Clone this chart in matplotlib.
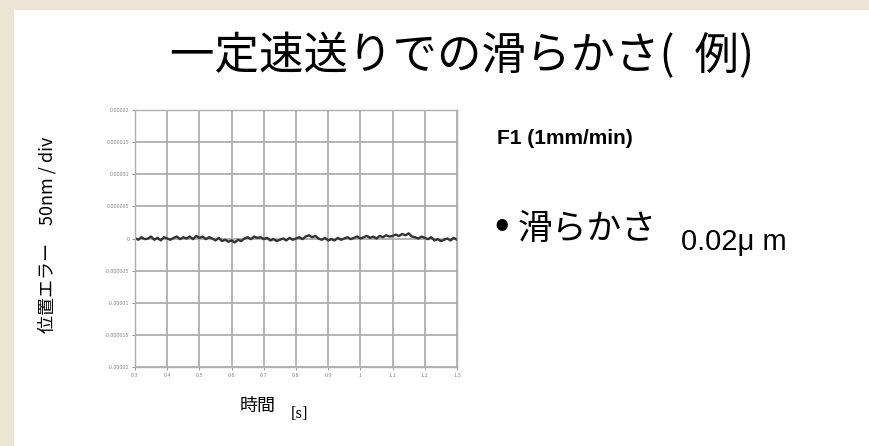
import matplotlib.pyplot as plt
from matplotlib.patches import Rectangle
import numpy as np

plt.rcParams['font.family'] = ['Noto Sans CJK JP', 'DejaVu Sans']

# --- データ ---
t_start, t_end = 0.3, 1.3
x_ticks = [0.3, 0.4, 0.5, 0.6, 0.7, 0.8, 0.9, 1.0, 1.1, 1.2, 1.3]
x_labels = ['0.3', '0.4', '0.5', '0.6', '0.7', '0.8', '0.9', '1', '1.1', '1.2', '1.3']
y_ticks = [0.00002, 0.000015, 0.00001, 0.000005, 0, -0.000005, -0.00001, -0.000015, -0.00002]
y_labels = ['0.00002', '0.000015', '0.00001', '0.000005', '0',
            '-0.000005', '-0.00001', '-0.000015', '-0.00002']

# 位置エラー (単位 1e-6), 0.01 s ごと
err_u = [0.1, -0.2, 0.2, -0.1, 0.0, 0.3, -0.2, 0.1, -0.3, 0.2, 0.0,
         -0.2, 0.1, 0.3, -0.1, 0.2, 0.0, 0.3, -0.1, 0.4, 0.1,
         0.3, -0.1, 0.2, 0.0, -0.3, 0.1, -0.4, -0.2, -0.5, -0.3,
         -0.6, -0.2, -0.4, 0.0, 0.2, -0.1, 0.3, 0.1, 0.2, -0.1,
         0.1, -0.3, -0.1, -0.4, -0.2, 0.0, -0.3, 0.1, -0.2, 0.0,
         0.2, -0.1, 0.3, 0.5, 0.2, 0.4, 0.0, -0.2, 0.1, -0.3,
         -0.1, -0.3, 0.1, -0.2, 0.0, 0.2, -0.1, 0.1, 0.3, 0.0,
         0.2, 0.4, 0.1, 0.3, 0.0, 0.4, 0.2, 0.5, 0.3, 0.4,
         0.6, 0.4, 0.7, 0.5, 0.8, 0.3, 0.2, 0.0, 0.3, 0.1,
         -0.1, 0.2, -0.3, -0.1, -0.4, -0.2, 0.0, -0.3, 0.1, -0.2]

t = np.linspace(t_start, t_end, len(err_u))
err = np.array(err_u) * 1e-6

fig = plt.figure(figsize=(8.69, 4.46), dpi=100)
fig.patch.set_facecolor('#ece5d3')
fig.patches.append(Rectangle((14 / 869, 0), 1, 1 - 10 / 446, transform=fig.transFigure,
                             facecolor='white', edgecolor='none', zorder=-10))

ax = fig.add_axes([135 / 869, 1 - 367 / 446, 322 / 869, 257 / 446])
ax.plot(t, err, color='#333333', lw=1.7)
ax.set_xlim(t_start, t_end)
ax.set_ylim(-0.00002, 0.00002)
ax.set_xticks(x_ticks)
ax.set_xticklabels(x_labels)
ax.set_yticks(y_ticks)
ax.set_yticklabels(y_labels)
ax.tick_params(labelsize=4, colors='#888888', length=2, width=0.6, pad=2)
ax.grid(True, color='#a8a8a8', lw=1.2)
for s in ax.spines.values():
    s.set_color('#b0b0b0')
    s.set_linewidth(1.0)

# テキスト
fig.text(462 / 869, 1 - 56 / 446, '一定速送りでの滑らかさ(  例)', fontsize=32,
         ha='center', va='center')
fig.text(47 / 869, 1 - 235 / 446, '位置エラー　50nm / div', fontsize=13,
         rotation=90, ha='center', va='center')
fig.text(240 / 869, 1 - 406 / 446, '時間', fontsize=13, ha='left', va='center')
fig.text(291 / 869, 1 - 414 / 446, '[s]', fontsize=12, family='Liberation Serif',
         ha='left', va='center')
fig.text(497 / 869, 1 - 138 / 446, 'F1 (1mm/min)', fontsize=15, fontweight='bold',
         family='Liberation Sans', ha='left', va='center')
fig.text(494 / 869, 1 - 228 / 446, '•', fontsize=30, family='Liberation Sans',
         ha='left', va='center')
fig.text(518 / 869, 1 - 230 / 446, '滑らかさ', fontsize=25, ha='left', va='center')
fig.text(681 / 869, 1 - 242 / 446, '0.02μ m', fontsize=21, family='Liberation Sans',
         ha='left', va='center')

fig.savefig('out.png', dpi=100, facecolor=fig.get_facecolor())
